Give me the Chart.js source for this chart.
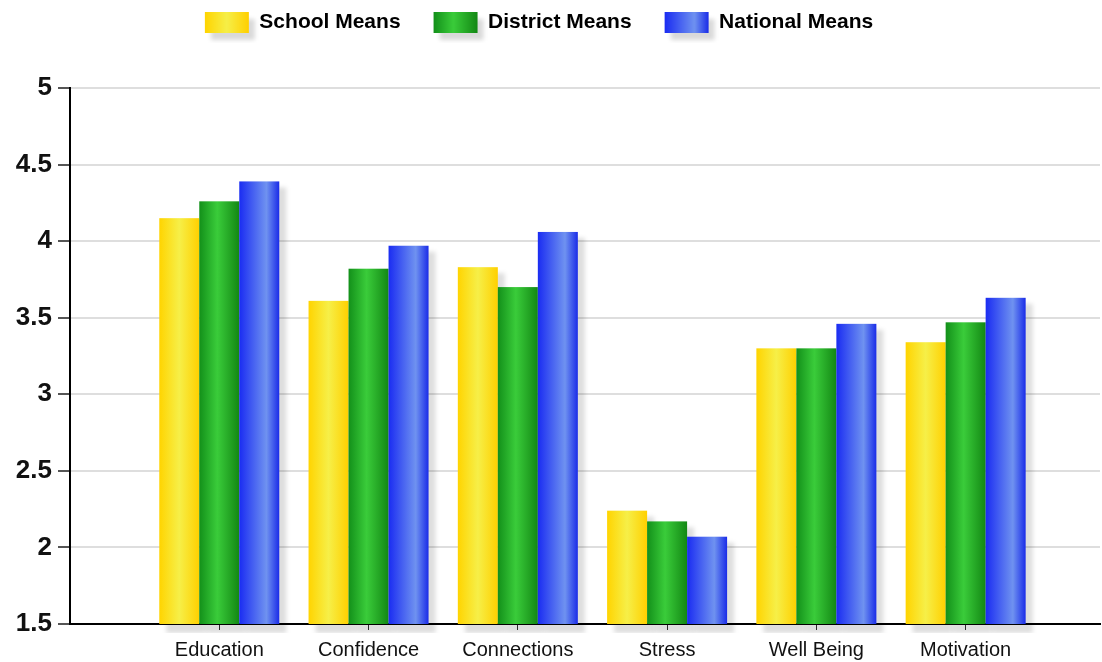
<!DOCTYPE html>
<html>
<head>
<meta charset="utf-8">
<script src="https://cdn.jsdelivr.net/npm/chart.js@4/dist/chart.umd.min.js"></script>
<style>
    html, body { margin: 0; padding: 0; background: #fff; }
    #wrap { width: 1102px; height: 662px; }
</style>
</head>
<body>
<div id="wrap"><canvas id="chart" width="1102" height="662"></canvas></div>
<script>
// Survey means by category
const categories = ['Education', 'Confidence', 'Connections', 'Stress', 'Well Being', 'Motivation'];
const schoolMeans = [4.15, 3.61, 3.83, 2.24, 3.30, 3.34];
const districtMeans = [4.26, 3.82, 3.70, 2.17, 3.30, 3.47];
const nationalMeans = [4.39, 3.97, 4.06, 2.07, 3.46, 3.63];
const seriesNames = ['School Means', 'District Means', 'National Means'];
const yTicks = [1.5, 2, 2.5, 3, 3.5, 4, 4.5, 5];

const FONT = "'Liberation Sans', Arial, sans-serif";

// Gradient stops for the "cylinder" look (edge, highlight, edge)
const palette = [
    { solid: '#FFD700', stops: [[0, '#FFD400'], [0.5, '#F6EF48'], [1, '#FFD000']] },
    { solid: '#22AA22', stops: [[0, '#13901A'], [0.45, '#3ACC3A'], [1, '#138814']] },
    { solid: '#2A40F0', stops: [[0, '#1A2CF2'], [0.68, '#6F92F0'], [1, '#1A2CE8']] }
];

function makeGradient(ctx, x0, x1, idx) {
    const g = ctx.createLinearGradient(x0, 0, x1, 0);
    palette[idx].stops.forEach(s => g.addColorStop(s[0], s[1]));
    return g;
}

// Legend swatch: box with soft shadow, box kept in the middle of the canvas
function legendSwatch(idx) {
    const m = 10;
    const c = document.createElement('canvas');
    c.width = 44 + 2 * m; c.height = 21 + 2 * m;
    const x = c.getContext('2d');
    x.save();
    x.filter = 'blur(2px)';
    x.fillStyle = 'rgba(0,0,0,0.15)';
    x.fillRect(m + 6, m + 7, 44, 21);
    x.restore();
    x.fillStyle = makeGradient(x, m, m + 44, idx);
    x.fillRect(m, m, 44, 21);
    return c;
}

function clipArea(ctx, chart, extra) {
    const a = chart.chartArea;
    ctx.beginPath();
    ctx.rect(a.left, a.top - 20, a.right - a.left, a.bottom - a.top + 20 + extra);
    ctx.clip();
}

// Paint shadows then gradient bars over the library's bar elements
const barPaint = {
    id: 'barPaint',
    beforeDatasetsDraw(chart) {
        const ctx = chart.ctx;
        ctx.save();
        clipArea(ctx, chart, 9);
        ctx.fillStyle = 'rgba(0,0,0,0.13)';
        ctx.filter = 'blur(2px)';
        chart.data.datasets.forEach((ds, i) => {
            chart.getDatasetMeta(i).data.forEach(el => {
                const p = el.getProps(['x', 'y', 'base', 'width'], true);
                ctx.fillRect(p.x - p.width / 2 + 7, p.y + 6, p.width, chart.chartArea.bottom - p.y + 3);
            });
        });
        ctx.restore();
    },
    afterDatasetsDraw(chart) {
        const ctx = chart.ctx;
        ctx.save();
        clipArea(ctx, chart, 0);
        chart.data.datasets.forEach((ds, i) => {
            chart.getDatasetMeta(i).data.forEach(el => {
                const p = el.getProps(['x', 'y', 'base', 'width'], true);
                const x0 = p.x - p.width / 2;
                ctx.fillStyle = makeGradient(ctx, x0, x0 + p.width, i);
                ctx.fillRect(x0, p.y, p.width, p.base - p.y);
            });
        });
        ctx.restore();
    }
};

// Reserve the area above the plot for the legend, nudge the row a bit left
const legendSpace = {
    id: 'legendSpace',
    beforeInit(chart) {
        const lg = chart.legend;
        const fit = lg.fit;
        lg.fit = function() {
            fit.bind(lg)();
            this.height = 109;
        };
        const draw = lg.draw;
        lg.draw = function() {
            this.left -= 22;
            draw.call(lg);
            this.left += 22;
        };
    }
};

const allSeries = [schoolMeans, districtMeans, nationalMeans];

const config = {
    type: 'bar',
    data: {
        datasets: allSeries.map((vals, i) => ({
            label: seriesNames[i],
            data: vals.map((v, j) => ({ x: j, y: v })),
            backgroundColor: 'rgba(0,0,0,0)',
            borderWidth: 0,
            barThickness: 40
        }))
    },
    options: {
        responsive: false,
        animation: false,
        layout: { padding: { left: 0, right: 2, top: -21, bottom: 0 } },
        plugins: {
            tooltip: { enabled: false },
            legend: {
                position: 'top',
                labels: {
                    usePointStyle: true,
                    pointStyleWidth: 44,
                    boxHeight: 21,
                    padding: 33,
                    color: '#111',
                    font: { family: FONT, size: 21, weight: 'bold' },
                    generateLabels: function(chart) {
                        return chart.data.datasets.map((ds, i) => ({
                            text: ds.label,
                            fillStyle: palette[i].solid,
                            strokeStyle: palette[i].solid,
                            lineWidth: 0,
                            pointStyle: legendSwatch(i),
                            hidden: false,
                            datasetIndex: i
                        }));
                    }
                }
            }
        },
        scales: {
            x: {
                type: 'linear',
                offset: false,
                min: -1,
                max: 5.9,
                grid: {
                    offset: false,
                    drawOnChartArea: false,
                    drawTicks: true,
                    tickLength: 6,
                    tickColor: '#333'
                },
                border: { color: '#000', width: 2 },
                afterBuildTicks: function(scale) {
                    scale.ticks = categories.map((c, i) => ({ value: i }));
                },
                ticks: {
                    autoSkip: false,
                    maxRotation: 0,
                    padding: 8,
                    color: '#111',
                    font: { family: FONT, size: 20 },
                    callback: function(value) {
                        return categories[value];
                    }
                },
                afterFit: function(scale) { scale.height = 38; }
            },
            y: {
                min: 1.5,
                max: 5,
                grid: {
                    color: '#dedede',
                    lineWidth: 2,
                    tickColor: '#555',
                    tickLength: 12
                },
                border: { color: '#000', width: 2 },
                afterBuildTicks: function(scale) {
                    scale.ticks = yTicks.map(v => ({ value: v }));
                },
                ticks: {
                    padding: 6,
                    color: '#111',
                    font: { family: FONT, size: 26, weight: 'bold' },
                    callback: function(value) {
                        return String(value);
                    }
                },
                afterFit: function(scale) { scale.width = 70; }
            }
        }
    },
    plugins: [barPaint, legendSpace]
};

new Chart(document.getElementById('chart').getContext('2d'), config);
</script>
</body>
</html>
